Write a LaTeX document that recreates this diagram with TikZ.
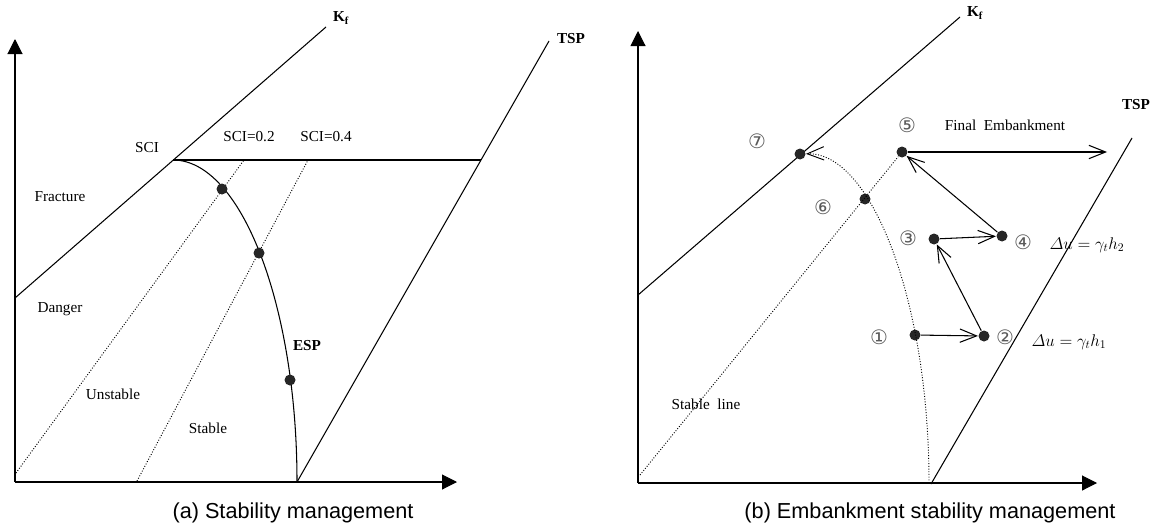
\documentclass[tikz,border=0pt]{standalone}
\usepackage{amsmath,amssymb}
\usepackage{fontspec}
\setmainfont{Liberation Serif}
\newfontfamily\capfont{Liberation Sans}
\newfontfamily\numfont{DejaVu Sans}
\usetikzlibrary{arrows.meta}

\tikzset{
  dot/.style={circle,fill=black!85,inner sep=0pt,minimum size=0.33cm},
  lbl/.style={font=\fontsize{13}{15}\selectfont},
  mlbl/.style={font=\fontsize{14}{16}\selectfont},
  num/.style={font=\numfont\fontsize{17}{19}\selectfont,text=black!65},
  capt/.style={font=\capfont\fontsize{18.5}{21}\selectfont},
  axis/.style={-{Triangle[length=0.45cm,width=0.45cm]}},
  guide/.style={line width=0.8pt,dash pattern=on 0.8pt off 1.5pt},
  move/.style={-{Straight Barb[length=0.5cm,width=0.4cm]}},
}

\begin{document}
\begin{tikzpicture}[x=0.03cm,y=-0.03cm,line width=0.9pt]
  \useasboundingbox (0,0) rectangle (1157,528);
  % (a) stability management
  \coordinate (Oa) at (15,482);
  \coordinate (Ya) at (15,39);
  \coordinate (Xa) at (457,482);
  \draw[axis] (Oa) -- (Ya);
  \draw[axis] (Oa) -- (Xa);
  \coordinate (Ka0) at (15,298);
  \coordinate (Ka1) at (326,27);
  \draw (Ka0) -- (Ka1);
  \coordinate (Ta0) at (297,482);
  \coordinate (Ta1) at (549,41);
  \draw (Ta0) -- (Ta1);
  \coordinate (SCI) at (173,160);
  \coordinate (Ha) at (481,160);
  \draw (SCI) -- (Ha);
  \draw (SCI) .. controls (241,160) and (297,305) .. (Ta0);
  \coordinate (s2a) at (16,473);
  \coordinate (s2b) at (244,160);
  \coordinate (s4a) at (137,481);
  \coordinate (s4b) at (308,160);
  \draw[guide] (s2a) -- (s2b);
  \draw[guide] (s4a) -- (s4b);
  \node[dot] (e1) at (222,189) {};
  \node[dot] (e2) at (259,253) {};
  \node[dot] (e3) at (290,380) {};
  \node[lbl] (kfa) at (341,18) {\textbf{K\textsubscript{f}}};
  \node[lbl] (tspa) at (571,39) {\textbf{TSP}};
  \node[lbl] (scia) at (147,148) {SCI};
  \node[lbl] (sci2) at (249,137) {SCI=0.2};
  \node[lbl] (sci4) at (326,137) {SCI=0.4};
  \node[lbl] (frac) at (60,197) {Fracture};
  \node[lbl] (dang) at (60,309) {Danger};
  \node[lbl] (unst) at (113,394) {Unstable};
  \node[lbl] (stab) at (208,428) {Stable};
  \node[lbl] (esp) at (307,346) {\textbf{ESP}};
  \node[capt] (capa) at (293,513) {(a) Stability management};

  % (b) embankment stability management
  \coordinate (Ob) at (638,483);
  \coordinate (Yb) at (638,31);
  \coordinate (Xb) at (1097,483);
  \draw[axis] (Ob) -- (Yb);
  \draw[axis] (Ob) -- (Xb);
  \coordinate (Kb0) at (638,295);
  \coordinate (Kb1) at (960,17);
  \draw (Kb0) -- (Kb1);
  \coordinate (Tb0) at (931,484);
  \coordinate (Tb1) at (1132,138);
  \draw (Tb0) -- (Tb1);
  \node[dot] (p1) at (915,335) {};
  \node[dot] (p2) at (984,336) {};
  \node[dot] (p3) at (934,239) {};
  \node[dot] (p4) at (1002,236) {};
  \node[dot] (p5) at (902,152) {};
  \node[dot] (p6) at (865,199) {};
  \node[dot] (p7) at (800,154) {};
  \coordinate (Sb) at (640,475);
  \coordinate (Eb) at (929,483);
  \coordinate (Fb) at (1107,152);
  \draw[guide] (Sb) -- (p5);
  \draw[guide,move] (Eb) .. controls (929,300) and (871,152) .. (p7);
  \draw[move] (p1) -- (p2);
  \draw[move] (p2) -- (p3);
  \draw[move] (p3) -- (p4);
  \draw[move] (p4) -- (p5);
  \draw[move] (p5) -- (Fb);
  \node[lbl] (kfb) at (975,13) {\textbf{K\textsubscript{f}}};
  \node[lbl] (tspb) at (1136,105) {\textbf{TSP}};
  \node[lbl] (fin) at (1005,125) {Final~~Embankment};
  \node[lbl] (sline) at (706,404) {Stable~~line};
  \node[num] (n1) at (879,337) {①};
  \node[num] (n2) at (1005,337) {②};
  \node[num] (n3) at (908,238) {③};
  \node[num] (n4) at (1023,242) {④};
  \node[num] (n5) at (907,125) {⑤};
  \node[num] (n6) at (823,207) {⑥};
  \node[num] (n7) at (757,141) {⑦};
  \node[mlbl] (du2) at (1087,245) {$\varDelta u=\gamma_t h_2$};
  \node[mlbl] (du1) at (1069,342) {$\varDelta u=\gamma_t h_1$};
  \node[capt] (capb) at (930,513) {(b) Embankment stability management};
\end{tikzpicture}
\end{document}
